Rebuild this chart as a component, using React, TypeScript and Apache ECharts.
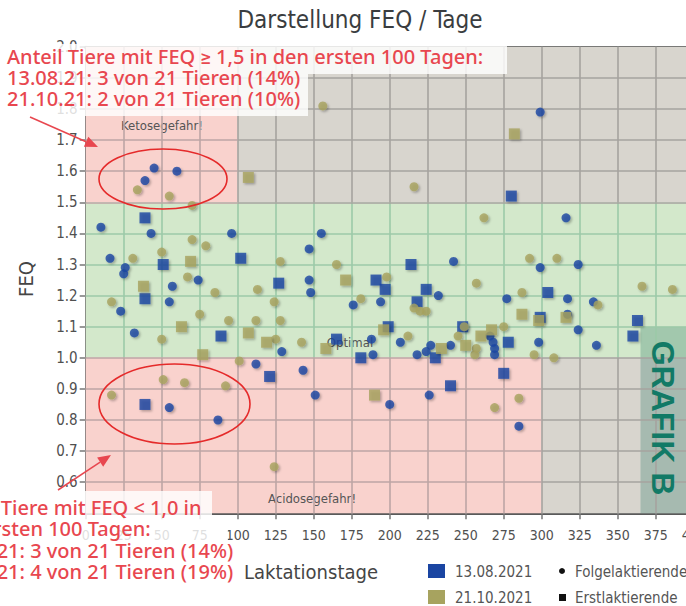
import React, { useEffect, useRef } from "react";
import * as echarts from "echarts";

// ---- axis ranges / ticks ----
const X_MIN = 0;
const X_MAX = 425;
const X_STEP = 25;
const Y_MIN = 0.5;
const Y_MAX = 2.0;
const Y_STEP = 0.1;

// ---- series: [Laktationstag, FEQ] ----
// 13.08.2021 – Folgelaktierende (circles)
const blueFolge: [number, number][] = [
  [45, 1.61], [60, 1.6], [39, 1.57], [10, 1.42], [43, 1.4], [96, 1.4], [16, 1.32], [26, 1.29],
  [25, 1.27], [74, 1.25], [57, 1.23], [55, 1.18], [23, 1.15], [32, 1.08], [129, 1.02], [112, 0.98],
  [143, 0.96], [151, 0.88], [55, 0.84], [87, 0.8], [147, 1.35], [155, 1.4], [147, 1.25], [148, 1.21],
  [242, 1.31], [232, 1.2], [194, 1.18], [176, 1.17], [316, 1.45], [299, 1.29], [324, 1.3], [317, 1.19],
  [277, 1.19], [334, 1.18], [317, 1.14], [324, 1.09], [336, 1.04], [298, 1.05], [207, 1.05], [188, 1.06],
  [189, 1.01], [227, 1.04], [224, 1.02], [218, 1.01], [240, 1.04], [266, 1.07], [268, 1.05], [269, 1.03],
  [269, 1.01], [226, 0.88], [200, 0.85], [285, 0.78], [299, 1.79],
];
// 13.08.2021 – Erstlaktierende (squares)
const blueErst: [number, number][] = [
  [39, 1.45], [102, 1.32], [51, 1.3], [127, 1.24], [39, 1.19], [89, 1.07], [121, 0.94], [165, 1.06],
  [39, 0.85], [214, 1.3], [191, 1.25], [197, 1.22], [224, 1.22], [218, 1.18], [304, 1.21], [299, 1.13],
  [363, 1.12], [360, 1.07], [199, 1.1], [181, 1.0], [230, 1.0], [248, 1.1], [278, 1.05], [275, 0.95],
  [240, 0.91], [280, 1.52],
];
// 21.10.2021 – Folgelaktierende (circles)
const oliveFolge: [number, number][] = [
  [34, 1.54], [55, 1.52], [70, 1.49], [70, 1.38], [79, 1.36], [50, 1.34], [31, 1.32], [128, 1.31],
  [67, 1.26], [113, 1.22], [85, 1.21], [17, 1.18], [124, 1.18], [75, 1.14], [94, 1.12], [112, 1.12],
  [128, 1.12], [50, 1.06], [125, 1.06], [142, 1.05], [101, 0.99], [51, 0.93], [65, 0.92], [92, 0.91],
  [17, 0.88], [124, 0.65], [156, 1.81], [216, 1.55], [165, 1.3], [198, 1.26], [257, 1.24], [181, 1.19],
  [262, 1.45], [292, 1.32], [310, 1.32], [287, 1.21], [366, 1.23], [386, 1.22], [216, 1.16], [220, 1.15],
  [224, 1.15], [337, 1.17], [212, 1.07], [245, 1.07], [249, 1.1], [257, 1.03], [256, 1.01], [275, 1.1],
  [295, 1.01], [308, 1.0], [285, 0.87], [269, 0.84],
];
// 21.10.2021 – Erstlaktierende (squares)
const oliveErst: [number, number][] = [
  [107, 1.58], [69, 1.31], [38, 1.23], [63, 1.1], [107, 1.08], [119, 1.05], [158, 1.03], [77, 1.01],
  [171, 1.25], [287, 1.14], [298, 1.12], [316, 1.13], [196, 1.09], [234, 1.03], [260, 1.07], [267, 1.09],
  [250, 1.04], [190, 0.88], [282, 1.72],
];

// ---- texts ----
const TITLE = "Darstellung FEQ / Tage";
const X_NAME = "Laktationstage";
const Y_NAME = "FEQ";
const DATE_1 = "13.08.2021";
const DATE_2 = "21.10.2021";
const TYPE_1 = "Folgelaktierende";
const TYPE_2 = "Erstlaktierende";
const ZONE_TOP = "Ketosegefahr!";
const ZONE_MID = "Optimal";
const ZONE_LOW = "Acidosegefahr!";
const NOTE_TOP = [
  "Anteil Tiere mit FEQ \u2265 1,5 in den ersten 100 Tagen:",
  "13.08.21: 3 von 21 Tieren (14%)",
  "21.10.21: 2 von 21 Tieren (10%)",
];
const NOTE_LOW = [
  "Anteil Tiere mit FEQ < 1,0 in",
  "den ersten 100 Tagen:",
  "13.08.21: 3 von 21 Tieren (14%)",
  "21.10.21: 4 von 21 Tieren (19%)",
];
const STAMP = "GRAFIK B";

// ---- colours ----
const BLUE = "#1a45a2";
const OLIVE = "#a7a35f";
const PINK = "#f9d2cd";
const GREY = "#d8d5ce";
const GREEN = "#d3e8cb";
const PINK_LINE = "#bda5a5";
const GREY_LINE = "#a6a39f";
const GREEN_LINE = "#9ccaa8";
const RED = "#e8474f";

const FONT_AXIS = "'DejaVu Sans Condensed', 'DejaVu Sans', sans-serif";
const FONT_NOTE = "'Noto Sans', Roboto, sans-serif";

function arrow(x1: number, y1: number, x2: number, y2: number) {
  const a = Math.atan2(y2 - y1, x2 - x1);
  const len = 13;
  const w = 5.5;
  const bx = x2 - len * Math.cos(a);
  const by = y2 - len * Math.sin(a);
  const px = -Math.sin(a) * w;
  const py = Math.cos(a) * w;
  return [
    { type: "line", z: 100, shape: { x1, y1, x2: bx, y2: by }, style: { stroke: RED, lineWidth: 1.5 } },
    {
      type: "polygon",
      z: 100,
      shape: { points: [[x2, y2], [bx + px, by + py], [bx - px, by - py]] },
      style: { fill: RED },
    },
  ];
}

export default function App() {
  const ref = useRef<HTMLDivElement>(null);

  useEffect(() => {
    document.body.style.margin = "0";
    if (!ref.current) return;
    const chart = echarts.init(ref.current, undefined, { renderer: "svg" });

    // zone backgrounds
    const zones = [
      [0, 100, 1.5, 2.0, PINK],
      [100, X_MAX, 1.5, 2.0, GREY],
      [0, X_MAX, 1.0, 1.5, GREEN],
      [0, 300, 0.5, 1.0, PINK],
      [300, X_MAX, 0.5, 1.0, GREY],
    ] as [number, number, number, number, string][];
    const zoneData = zones.map(([x0, x1, y0, y1, c]) => [
      { xAxis: x0, yAxis: y0, itemStyle: { color: c } },
      { xAxis: x1, yAxis: y1 },
    ]);

    // grid lines coloured per zone
    const lines: any[] = [];
    const seg = (a: [number, number], b: [number, number], color: string) =>
      lines.push([{ coord: a, lineStyle: { color } }, { coord: b }]);
    for (let x = X_MIN + X_STEP; x <= X_MAX; x += X_STEP) {
      seg([x, 0.5], [x, 1.0], x < 300 ? PINK_LINE : GREY_LINE);
      seg([x, 1.0], [x, 1.5], GREEN_LINE);
      seg([x, 1.5], [x, 2.0], x < 100 ? PINK_LINE : GREY_LINE);
    }
    for (let i = 1; i < 15; i++) {
      const y = (5 + i) / 10;
      if (y > 1.0 && y < 1.5) seg([0, y], [X_MAX, y], GREEN_LINE);
      else if (y <= 1.0) {
        seg([0, y], [300, y], PINK_LINE);
        seg([300, y], [X_MAX, y], GREY_LINE);
      } else {
        seg([0, y], [100, y], PINK_LINE);
        seg([100, y], [X_MAX, y], GREY_LINE);
      }
    }

    const pointStyle = (color: string) => ({
      color,
      shadowColor: "rgba(0,0,0,0.35)",
      shadowBlur: 2,
      shadowOffsetX: 1.5,
      shadowOffsetY: 1.5,
    });

    const noteText = (text: string, x: number, y: number) => ({
      type: "text",
      z: 101,
      x,
      y,
      style: {
        text,
        fill: RED,
        font: `500 20px ${FONT_NOTE}`,
        verticalAlign: "middle",
      },
    });

    const graphic: any[] = [
      // title
      {
        type: "text",
        x: 360,
        y: 20,
        style: {
          text: TITLE,
          fill: "#3a3d40",
          font: `24px ${FONT_AXIS}`,
          align: "center",
          verticalAlign: "middle",
        },
      },
      // axis names
      {
        type: "text",
        x: 311,
        y: 572,
        style: { text: X_NAME, fill: "#454545", font: `20px ${FONT_AXIS}`, align: "center", verticalAlign: "middle" },
      },
      {
        type: "text",
        x: 26,
        y: 279,
        rotation: Math.PI / 2,
        style: { text: Y_NAME, fill: "#454545", font: `20px ${FONT_AXIS}`, align: "center", verticalAlign: "middle" },
      },
      // zone labels
      {
        type: "text",
        z: 4,
        x: 162,
        y: 125,
        style: { text: ZONE_TOP, fill: "#555", font: `13px ${FONT_AXIS}`, align: "center", verticalAlign: "middle" },
      },
      {
        type: "text",
        z: 4,
        x: 350,
        y: 342,
        style: { text: ZONE_MID, fill: "#555", font: `13px ${FONT_AXIS}`, align: "center", verticalAlign: "middle" },
      },
      {
        type: "text",
        z: 4,
        x: 312,
        y: 498,
        style: { text: ZONE_LOW, fill: "#555", font: `13px ${FONT_AXIS}`, align: "center", verticalAlign: "middle" },
      },
      // stamp
      {
        type: "text",
        z: 50,
        x: 663,
        y: 418,
        rotation: -Math.PI / 2,
        style: {
          text: STAMP,
          fill: "#127a66",
          font: `bold 32px 'Liberation Sans', Arial, sans-serif`,
          align: "center",
          verticalAlign: "middle",
        },
      },
      // legend
      { type: "rect", x: 428, y: 564, shape: { width: 17, height: 14 }, style: { fill: BLUE } },
      { type: "rect", x: 428, y: 590, shape: { width: 17, height: 14 }, style: { fill: OLIVE } },
      {
        type: "text",
        x: 455,
        y: 572,
        style: { text: DATE_1, fill: "#555", font: `15px ${FONT_AXIS}`, verticalAlign: "middle" },
      },
      {
        type: "text",
        x: 455,
        y: 598,
        style: { text: DATE_2, fill: "#555", font: `15px ${FONT_AXIS}`, verticalAlign: "middle" },
      },
      { type: "circle", shape: { cx: 562, cy: 571, r: 3 }, style: { fill: "#111" } },
      { type: "rect", x: 559, y: 594, shape: { width: 7, height: 7 }, style: { fill: "#111" } },
      {
        type: "text",
        x: 575,
        y: 572,
        style: { text: TYPE_1, fill: "#555", font: `15px ${FONT_AXIS}`, verticalAlign: "middle" },
      },
      {
        type: "text",
        x: 575,
        y: 598,
        style: { text: TYPE_2, fill: "#555", font: `15px ${FONT_AXIS}`, verticalAlign: "middle" },
      },
      // annotation boxes
      { type: "rect", z: 99, x: 0, y: 44, shape: { width: 507, height: 30 }, style: { fill: "rgba(255,255,255,0.82)" } },
      { type: "rect", z: 99, x: 0, y: 74, shape: { width: 308, height: 42 }, style: { fill: "rgba(255,255,255,0.82)" } },
      { type: "rect", z: 99, x: 0, y: 491, shape: { width: 212, height: 27 }, style: { fill: "rgba(255,255,255,0.82)" } },
      { type: "rect", z: 99, x: 0, y: 518, shape: { width: 228, height: 66 }, style: { fill: "rgba(255,255,255,0.82)" } },
      noteText(NOTE_TOP[0], 7, 56),
      noteText(NOTE_TOP[1], 7, 77),
      noteText(NOTE_TOP[2], 7, 98),
      noteText(NOTE_LOW[0], -60, 507),
      noteText(NOTE_LOW[1], -60, 528),
      noteText(NOTE_LOW[2], -60, 550),
      noteText(NOTE_LOW[3], -60, 571),
      // ellipses
      {
        type: "ellipse",
        z: 100,
        shape: { cx: 163, cy: 179, rx: 64, ry: 30 },
        style: { fill: "none", stroke: "#e52a2a", lineWidth: 1.6 },
      },
      {
        type: "ellipse",
        z: 100,
        shape: { cx: 174.5, cy: 404, rx: 75.5, ry: 40 },
        style: { fill: "none", stroke: "#e52a2a", lineWidth: 1.6 },
      },
      ...arrow(30, 117, 98, 147),
      ...arrow(58, 490, 111, 455),
    ];

    const option: any = {
      animation: false,
      backgroundColor: "#ffffff",
      grid: {
        left: 85.7,
        top: 46.8,
        width: (X_MAX - X_MIN) * 1.52,
        height: 466.5,
        containLabel: false,
        outerBoundsMode: "none",
      },
      xAxis: [
        {
          type: "value",
          min: X_MIN,
          max: X_MAX,
          interval: X_STEP,
          axisLine: { show: true, onZero: false, lineStyle: { color: "#5a5a5a", width: 3 } },
          axisTick: { show: true, length: 6, lineStyle: { color: "#777", width: 1.5 } },
          axisLabel: { margin: 15, fontSize: 14, color: "#505050", fontFamily: FONT_AXIS, hideOverlap: false },
          splitLine: { show: false },
        },
        {
          type: "value",
          position: "top",
          min: X_MIN,
          max: X_MAX,
          interval: X_STEP,
          axisLine: { show: true, onZero: false, lineStyle: { color: "#5a5a5a", width: 3 } },
          axisTick: { show: false },
          axisLabel: { show: false },
          splitLine: { show: false },
        },
      ],
      yAxis: {
        type: "value",
        min: Y_MIN,
        max: Y_MAX,
        interval: Y_STEP,
        axisLine: { show: true, onZero: false, lineStyle: { color: "#6a6a6a", width: 2 } },
        axisTick: { show: true, length: 6, lineStyle: { color: "#777", width: 1.5 } },
        axisLabel: {
          margin: 8,
          fontSize: 15,
          color: "#505050",
          fontFamily: FONT_AXIS,
          formatter: (v: number) => (Math.abs(v - Y_MIN) < 1e-6 ? "" : v.toFixed(1)),
        },
        splitLine: { show: false },
      },
      series: [
        {
          type: "scatter",
          z: 1,
          data: [],
          silent: true,
          markArea: { silent: true, data: zoneData },
        },
        {
          type: "scatter",
          z: 2,
          data: [],
          silent: true,
          markLine: {
            silent: true,
            symbol: "none",
            label: { show: false },
            lineStyle: { width: 1.6, type: "solid" },
            data: lines,
          },
        },
        {
          type: "scatter",
          z: 3,
          data: [],
          silent: true,
          markArea: {
            silent: true,
            data: [[{ xAxis: 365, yAxis: 0.5, itemStyle: { color: "rgba(50,125,105,0.3)" } }, { xAxis: X_MAX, yAxis: 1.1 }]],
          },
        },
        { name: DATE_1, type: "scatter", z: 10, symbol: "circle", symbolSize: 9, data: blueFolge, itemStyle: pointStyle(BLUE) },
        { name: DATE_1, type: "scatter", z: 10, symbol: "rect", symbolSize: 11, data: blueErst, itemStyle: pointStyle(BLUE) },
        { name: DATE_2, type: "scatter", z: 10, symbol: "circle", symbolSize: 9, data: oliveFolge, itemStyle: pointStyle(OLIVE) },
        { name: DATE_2, type: "scatter", z: 10, symbol: "rect", symbolSize: 11, data: oliveErst, itemStyle: pointStyle(OLIVE) },
      ],
      graphic,
    };

    chart.setOption(option);
    return () => chart.dispose();
  }, []);

  return (
    <div
      ref={ref}
      style={{ position: "absolute", left: 0, top: 0, width: 686, height: 606, overflow: "hidden" }}
    />
  );
}
